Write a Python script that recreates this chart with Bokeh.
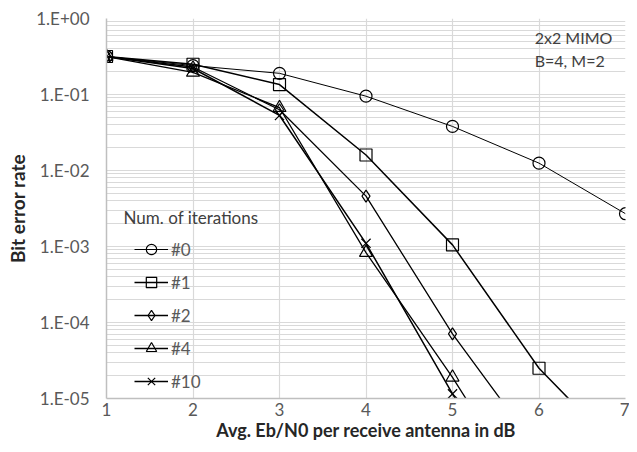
from bokeh.plotting import figure
from bokeh.models import FixedTicker, Legend, LegendItem, Label, Range1d
from bokeh.embed import file_html
from bokeh.resources import INLINE

# ---- data ----
snr_db = [1, 2, 3, 4, 5, 6, 7]
ber_it0 = [0.316, 0.24, 0.19, 0.095, 0.038, 0.0125, 0.0027]
ber_it1 = [0.316, 0.25, 0.135, 0.016, 0.00105, 2.5e-05, 1.7e-06]
ber_it2 = [0.316, 0.23, 0.063, 0.0046, 7.1e-05, 2.0e-06]
ber_it4 = [0.316, 0.195, 0.067, 0.00083, 1.9e-05, 3.0e-07]
ber_it10 = [0.316, 0.22, 0.053, 0.0011, 1.15e-05, 1.5e-07]
series_names = ["#0", "#1", "#2", "#4", "#10"]
y_tick_values = [1e-5, 1e-4, 1e-3, 1e-2, 1e-1, 1.0]
y_tick_labels = ["1.E-05", "1.E-04", "1.E-03", "1.E-02", "1.E-01", "1.E+00"]
x_ticks = [1, 2, 3, 4, 5, 6, 7]

FONT = "Lato"
GRID = "#d9d9d9"
TXT = "#595959"

p = figure(width=629, height=444, y_axis_type="log",
           x_range=Range1d(1, 7), y_range=Range1d(1e-5, 1.0),
           output_backend="svg", toolbar_location=None,
           min_border_left=106, min_border_right=4, min_border_top=18, min_border_bottom=46)
p.outline_line_color = None

minor = []
for e in range(-5, 0):
    for m in range(2, 10):
        minor.append(m * 10 ** e)
p.yaxis.ticker = FixedTicker(ticks=y_tick_values, minor_ticks=minor)
p.yaxis.major_label_overrides = {v: l for v, l in zip(y_tick_values, y_tick_labels)}
p.xaxis.ticker = FixedTicker(ticks=x_ticks)

for ax in (p.xaxis, p.yaxis):
    ax.major_tick_line_color = None
    ax.minor_tick_line_color = None
    ax.major_tick_out = 0
    ax.minor_tick_out = 0
    ax.major_tick_in = 0
    ax.minor_tick_in = 0
    ax.axis_line_color = "#bfbfbf"
    ax.axis_line_width = 1.5
    ax.major_label_text_color = TXT
    ax.major_label_text_font = FONT
    ax.major_label_text_font_size = "17px"
    ax.axis_label_text_font = FONT
    ax.axis_label_text_font_style = "bold"
    ax.axis_label_text_font_size = "18px"
    ax.axis_label_text_color = "#262626"
p.yaxis.axis_label_text_font_size = "19px"
p.xaxis.axis_label = "Avg. Eb/N0 per receive antenna in dB"
p.yaxis.axis_label = "Bit error rate"
p.yaxis.major_label_standoff = 17
p.xaxis.major_label_standoff = 4
p.xaxis.axis_label_standoff = 0
p.yaxis.axis_label_standoff = 4

p.xgrid.grid_line_color = GRID
p.ygrid.grid_line_color = GRID
p.ygrid.minor_grid_line_color = GRID
p.xgrid.grid_line_width = 1.2
p.ygrid.grid_line_width = 1.2

all_series = [ber_it0, ber_it1, ber_it2, ber_it4, ber_it10]
markers = ["circle", "square", "diamond", "triangle", "x"]
sizes = [12, 12, 12, 13, 13]
widths = [1.0, 1.5, 1.3, 1.3, 1.5]
items = []
for name, ys, mk, sz, lw in zip(series_names, all_series, markers, sizes, widths):
    xs = snr_db[:len(ys)]
    r1 = p.line(xs, ys, line_color="black", line_width=lw)
    r2 = p.scatter(xs, ys, marker=mk, size=sz, line_color="black",
                   fill_color=None, line_width=1.2)
    items.append(LegendItem(label=name, renderers=[r1, r2]))

legend = Legend(items=items, location=(28, 4), padding=0, margin=0,
                spacing=7, glyph_width=34, glyph_height=26, label_height=26,
                label_standoff=3, background_fill_alpha=0, border_line_color=None,
                label_text_font=FONT, label_text_font_size="17px", label_text_color=TXT)
p.add_layout(legend)

p.add_layout(Label(x=1.197, y=0.0024,
                   text="Num. of iterations", text_font=FONT, text_font_size="17px",
                   text_color="#404040", text_baseline="middle"))
p.add_layout(Label(x=5.95, y=0.56,
                   text="2x2 MIMO", text_font=FONT, text_font_size="16px",
                   text_color="#404040", text_baseline="middle"))
p.add_layout(Label(x=5.95, y=0.28,
                   text="B=4, M=2", text_font=FONT, text_font_size="16px",
                   text_color="#404040", text_baseline="middle"))

open("out.html", "w").write(file_html(p, INLINE))
